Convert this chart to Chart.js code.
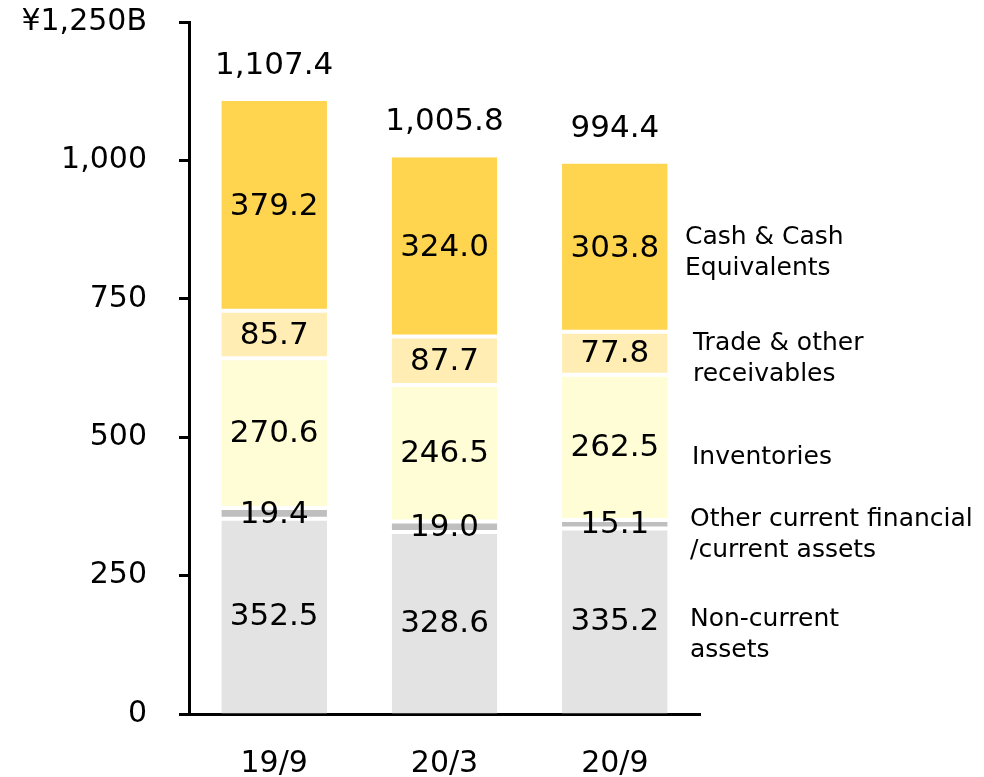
<!DOCTYPE html>
<html>
<head>
<meta charset="utf-8">
<script src="https://cdn.jsdelivr.net/npm/chart.js@4/dist/chart.umd.min.js"></script>
<style>
  html, body { margin: 0; padding: 0; background: #fff; }
  #wrap { width: 984px; height: 777px; }
</style>
</head>
<body>
<div id="wrap"><canvas id="chart" width="984" height="777"></canvas></div>
<script>
'use strict';

// ── Data ─────────────────────────────────────────────────────────────────────

const categories = ['19/9', '20/3', '20/9'];

const nonCurrent   = [352.5, 328.6, 335.2];
const otherCurrent = [19.4, 19.0, 15.1];
const inventories  = [270.6, 246.5, 262.5];
const receivables  = [85.7, 87.7, 77.8];
const cash         = [379.2, 324.0, 303.8];

const totals = [1107.4, 1005.8, 994.4];

const yTicks      = [0, 250, 500, 750, 1000, 1250];
const yTickLabels = ['0', '250', '500', '750', '1,000', '¥1,250B'];

const seriesNames = [
  ['Non-current', 'assets'],
  ['Other current financial', '/current assets'],
  ['Inventories'],
  ['Trade & other', 'receivables'],
  ['Cash & Cash', 'Equivalents']
];

// ── Layout / style ────────────────────────────────────────────────────────────

const FONT = '"DejaVu Sans", Verdana, sans-serif';
const colors = ['#E3E3E3', '#BFBFBF', '#FFFDD5', '#FFEDB3', '#FFD54F'];
// pixel centres of the right-hand labels (first line), and their left x
const nameY = [619, 519, 457, 343, 237];
const nameX = [690, 690, 692, 693, 685];

const fmt = v => v.toLocaleString('en-US', { minimumFractionDigits: 1, maximumFractionDigits: 1 });

// ── Plugin: value labels + side labels ───────────────────────────────────────

const labelPlugin = {
  id: 'labels',
  afterDatasetsDraw(chart) {
    const { ctx } = chart;
    const y = chart.scales.y;
    ctx.save();
    ctx.fillStyle = '#000';
    ctx.textAlign = 'center';
    ctx.textBaseline = 'middle';
    ctx.font = `31px ${FONT}`;

    chart.data.datasets.forEach((ds, di) => {
      const meta = chart.getDatasetMeta(di);
      meta.data.forEach((bar, i) => {
        const mid = (bar.y + bar.base) / 2;
        ctx.fillText(fmt(ds.data[i]), bar.x, mid + 1);
      });
    });

    const topMeta = chart.getDatasetMeta(chart.data.datasets.length - 1);
    topMeta.data.forEach((bar, i) => {
      ctx.fillText(fmt(totals[i]), bar.x, y.getPixelForValue(totals[i]) - 35);
    });

    ctx.textAlign = 'left';
    ctx.font = `25px ${FONT}`;
    seriesNames.forEach((lines, si) => {
      lines.forEach((line, li) => {
        ctx.fillText(line, nameX[si], nameY[si] + li * 31);
      });
    });
    ctx.restore();
  }
};

// ── Chart ─────────────────────────────────────────────────────────────────────

const seriesData = [nonCurrent, otherCurrent, inventories, receivables, cash];
const last = seriesData.length - 1;

const datasets = seriesData.map((data, i) => ({
  label: seriesNames[i].join(' '),
  data,
  backgroundColor: colors[i],
  borderColor: '#fff',
  borderWidth: { top: i === last ? 0 : 2, bottom: i === 0 ? 0 : 2, left: 0, right: 0 },
  borderSkipped: false,
  barPercentage: 0.62,
  categoryPercentage: 1
}));

new Chart(document.getElementById('chart'), {
  type: 'bar',
  data: { labels: categories, datasets },
  plugins: [labelPlugin],
  options: {
    responsive: false,
    animation: false,
    layout: { padding: { top: 2, right: 284, left: 0, bottom: 0 } },
    plugins: { legend: { display: false }, tooltip: { enabled: false } },
    scales: {
      x: {
        stacked: true,
        grid: { display: false },
        border: { display: true, color: '#000', width: 3 },
        ticks: { color: '#000', font: { family: FONT, size: 30 }, padding: 24 },
        afterFit(scale) { scale.height = 63; }
      },
      y: {
        stacked: true,
        min: 0,
        max: 1250,
        afterBuildTicks(scale) { scale.ticks = yTicks.map(v => ({ value: v })); },
        afterFit(scale) {
          scale.width = 189;
          scale.paddingTop = 22;
          scale.paddingBottom = 0;
        },
        grid: { drawOnChartArea: false, drawTicks: true, tickLength: 10, tickWidth: 3, tickColor: '#000' },
        border: { display: true, color: '#000', width: 3 },
        ticks: {
          color: '#000',
          font: { family: FONT, size: 30 },
          padding: 32,
          callback: (v) => yTickLabels[yTicks.indexOf(v)]
        }
      }
    }
  }
});
</script>
</body>
</html>
